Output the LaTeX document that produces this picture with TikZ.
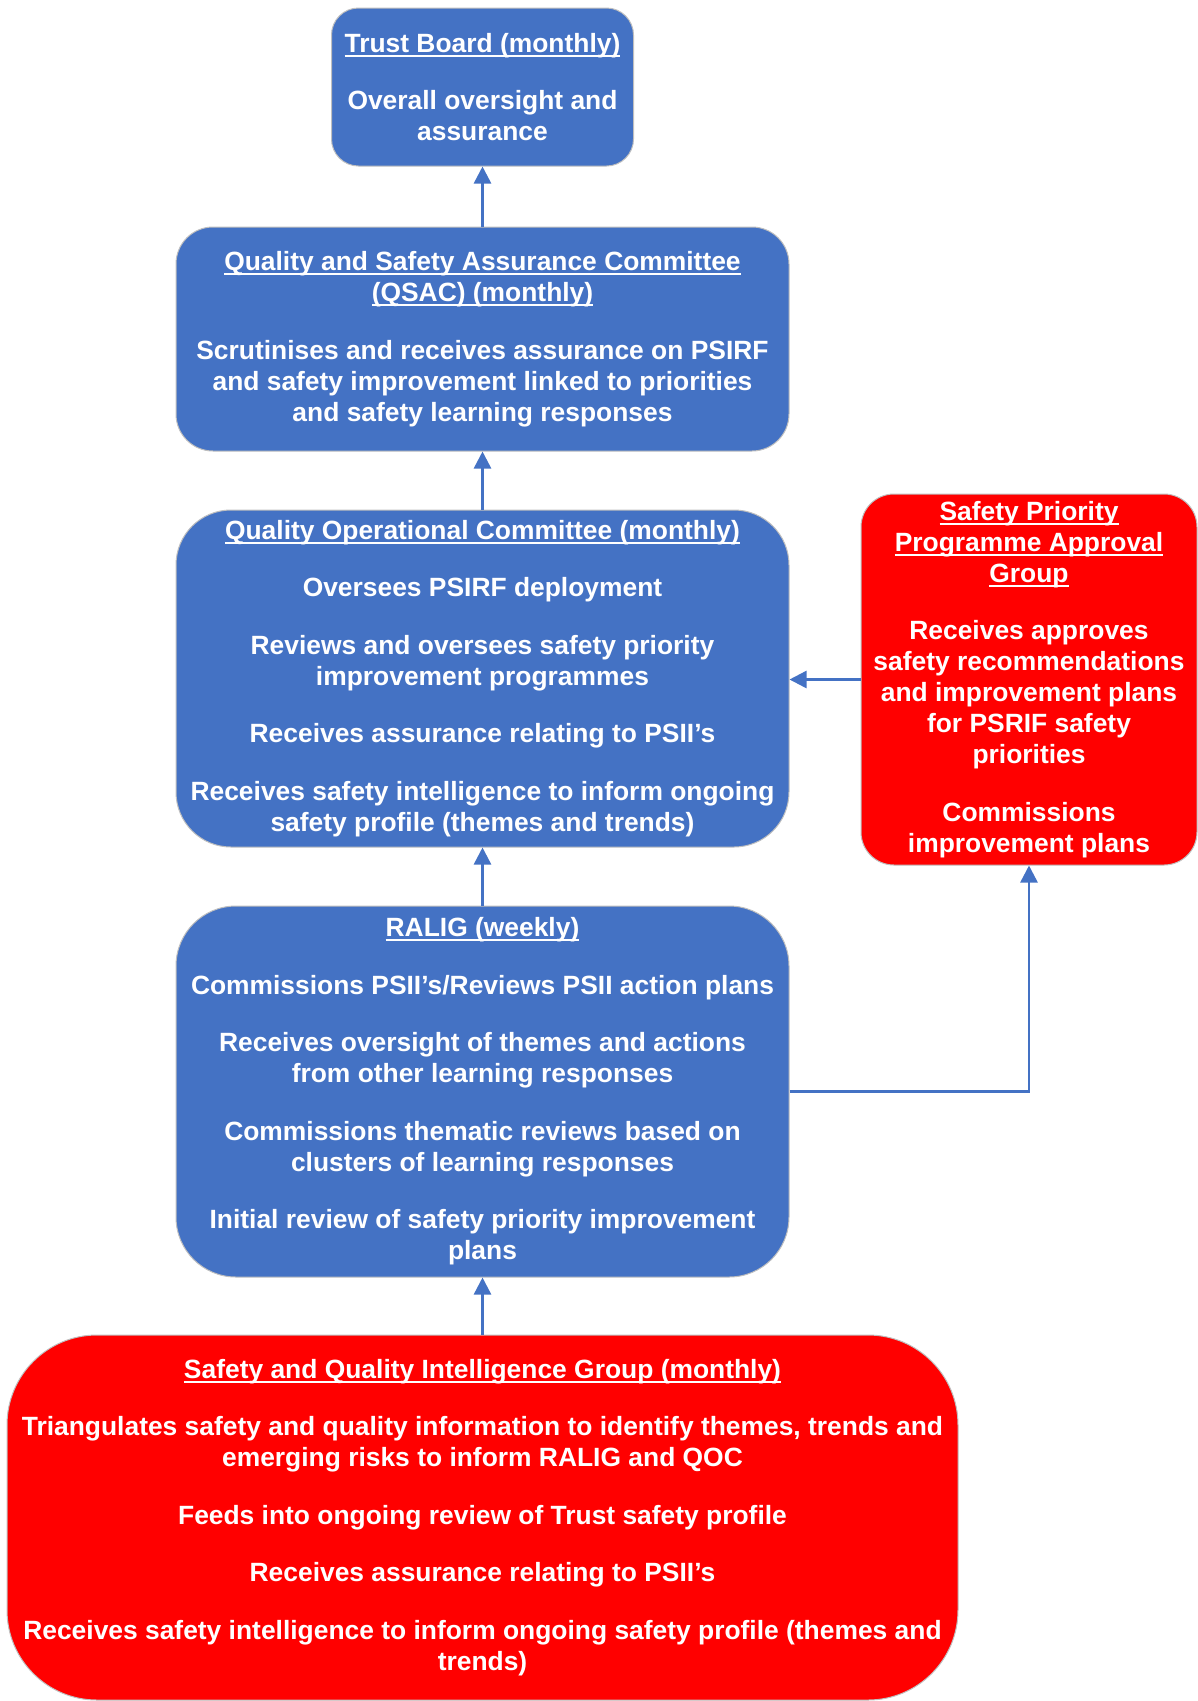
\documentclass[tikz,border=0pt]{standalone}
\usepackage{fontspec}
\setmainfont{Liberation Sans}
\usepackage{xcolor}
\usepackage{tikz}
\usetikzlibrary{arrows.meta, positioning}

\definecolor{boardblue}{HTML}{4472C4}
\definecolor{groupred}{HTML}{FF0000}

\newsavebox{\hdrbox}
\newcommand{\hdr}[1]{\sbox\hdrbox{#1}\rlap{\rule[-4.5pt]{\wd\hdrbox}{2pt}}\usebox\hdrbox}
\newcommand{\blockgap}{\\[26.5pt]}

\begin{document}
\begin{tikzpicture}[x=1pt, y=-1pt,
  box/.style={text=white, align=center, inner sep=0pt, draw=black!25, line width=1pt,
    font=\fontsize{26.4}{31}\selectfont\bfseries},
  blueblock/.style={box, fill=boardblue},
  redblock/.style={box, fill=groupred},
  link/.style={draw=boardblue, line width=2.5pt, -{Triangle[width=17pt,length=17pt]}}]
  \useasboundingbox (0,0) rectangle (1198,1701);

  % Trust board
  \node[blueblock, minimum width=302pt, minimum height=158pt, rounded corners=27pt]
    (board) at (482.5,87) {\hdr{Trust Board (monthly)}\blockgap
      Overall oversight and\\assurance};

  % QSAC
  \node[blueblock, minimum width=613pt, minimum height=224pt, rounded corners=37pt]
    (qsac) at (482.5,339) {\hdr{Quality and Safety Assurance Committee}\\\hdr{(QSAC) (monthly)}\blockgap
      Scrutinises and receives assurance on PSIRF\\and safety improvement linked to priorities\\and safety learning responses};

  % QOC
  \node[blueblock, minimum width=613pt, minimum height=337pt, rounded corners=55pt]
    (qoc) at (482.5,678.5) {\hdr{Quality Operational Committee (monthly)}\blockgap
      Oversees PSIRF deployment\blockgap
      Reviews and oversees safety priority\\improvement programmes\blockgap
      Receives assurance relating to PSII’s\blockgap
      Receives safety intelligence to inform ongoing\\safety profile (themes and trends)};

  % Approval group
  \node[redblock, minimum width=336pt, minimum height=371pt, rounded corners=33pt]
    (sppag) at (1029,679.5) {\hdr{Safety Priority}\\\hdr{Programme Approval}\\\hdr{Group}\blockgap
      Receives approves\\safety recommendations\\and improvement plans\\for PSRIF safety\\priorities\blockgap
      Commissions\\improvement plans};

  % RALIG
  \node[blueblock, minimum width=613pt, minimum height=371pt, rounded corners=60pt]
    (ralig) at (482.5,1091.5) {\hdr{RALIG (weekly)}\blockgap
      Commissions PSII’s/Reviews PSII action plans\blockgap
      Receives oversight of themes and actions\\from other learning responses\blockgap
      Commissions thematic reviews based on\\clusters of learning responses\blockgap
      Initial review of safety priority improvement\\plans};

  % Intelligence group
  \node[redblock, minimum width=951pt, minimum height=365pt, rounded corners=90pt]
    (sqig) at (482.5,1517.5) {\hdr{Safety and Quality Intelligence Group (monthly)}\blockgap
      Triangulates safety and quality information to identify themes, trends and\\emerging risks to inform RALIG and QOC\blockgap
      Feeds into ongoing review of Trust safety profile\blockgap
      Receives assurance relating to PSII’s\blockgap
      Receives safety intelligence to inform ongoing safety profile (themes and\\trends)};

  % connectors
  \draw[link] (qsac.north) -- (board.south);
  \draw[link] (qoc.north) -- (qsac.south);
  \draw[link] (ralig.north) -- (qoc.south);
  \draw[link] (sqig.north) -- (ralig.south);
  \draw[link] (sppag.west) -- (sppag.west -| qoc.east);
  \draw[link] (ralig.east) -| (sppag.south);
\end{tikzpicture}
\end{document}
